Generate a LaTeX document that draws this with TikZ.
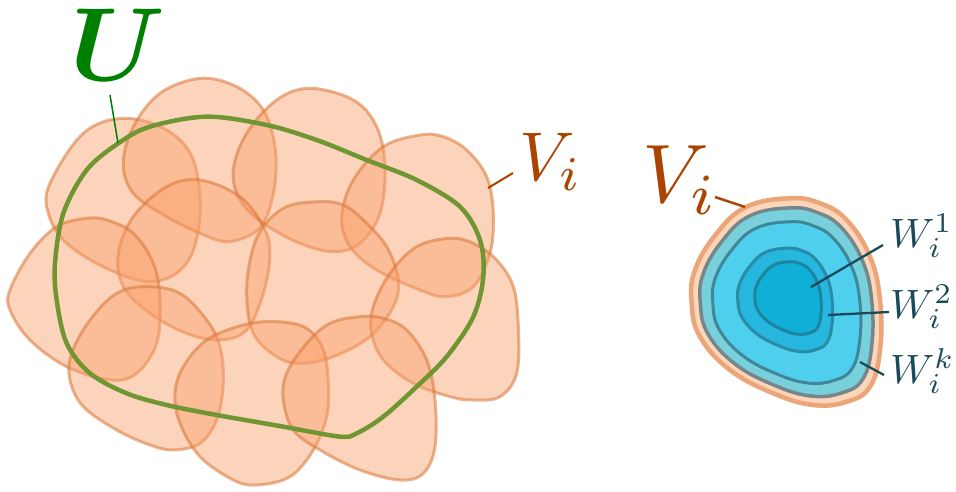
\documentclass[tikz,border=0pt]{standalone}
\usepackage{graphicx}
\definecolor{blobfill}{RGB}{249,160,106}
\definecolor{blobline}{RGB}{217,118,55}
\definecolor{ugreen}{RGB}{0,128,0}
\definecolor{ucurve}{RGB}{112,150,52}
\definecolor{vbrown}{RGB}{170,68,0}
\definecolor{wtext}{RGB}{26,74,90}
\definecolor{outfill}{RGB}{253,213,184}
\definecolor{outline}{RGB}{235,165,120}
\definecolor{ringk}{RGB}{118,135,139}
\definecolor{fillk}{RGB}{120,208,220}
\definecolor{ringtwo}{RGB}{64,133,152}
\definecolor{filltwo}{RGB}{79,207,238}
\definecolor{ringone}{RGB}{42,139,166}
\definecolor{fillone}{RGB}{37,183,221}
\definecolor{ringzero}{RGB}{30,133,160}
\definecolor{fillzero}{RGB}{16,175,215}
\tikzset{
  blob/.style={fill=blobfill, fill opacity=0.45, draw=blobline, draw opacity=0.55, line width=3pt, line join=round},
  ucurvestyle/.style={draw=ucurve, line width=4.5pt, line join=round},
  lbl/.style={anchor=base west, inner sep=0pt, outer sep=0pt},
  wlead/.style={draw=wtext, line width=2.3pt},
}
\newcommand\rightblob[1]{\path[#1] plot[smooth cycle, tension=0.7] coordinates {(790,198.3) (746.7,206.7) (716.7,233.3) (695,270) (691.7,303.3) (700,336.7) (730,370) (773.3,393.3) (813.3,405) (846.7,401.7) (870,386.7) (880,350) (880,300) (870,256.7) (846.7,220) (820,203.3)};}
\begin{document}
\begin{tikzpicture}[x=1pt,y=-1pt]
\useasboundingbox (0,0) rectangle (956,492);
% ---------------- left: cover of U ----------------
\begin{scope}[x=1/3 pt, y=-1/3 pt]
\draw[blob] plot[smooth cycle, tension=0.6] coordinates {(370,355) (250,400) (150,550) (145,640) (200,730) (330,810) (460,845) (560,790) (600,650) (580,480) (500,390)};
\draw[blob] plot[smooth cycle, tension=0.6] coordinates {(600,235) (480,280) (400,380) (370,490) (400,580) (500,650) (600,700) (680,725) (760,700) (800,650) (825,550) (825,440) (790,330) (710,260)};
\draw[blob] plot[smooth cycle, tension=0.6] coordinates {(930,265) (830,300) (740,400) (700,510) (720,600) (790,670) (900,730) (1000,755) (1080,730) (1140,640) (1155,500) (1130,380) (1060,300)};
\draw[blob] plot[smooth cycle, tension=0.6] coordinates {(1260,405) (1150,440) (1060,540) (1025,650) (1050,740) (1130,810) (1260,870) (1340,890) (1420,860) (1470,760) (1480,640) (1460,530) (1400,450) (1330,410)};
\draw[blob] plot[smooth cycle, tension=0.6] coordinates {(600,540) (500,560) (400,650) (355,760) (370,860) (450,940) (560,1000) (660,1020) (740,990) (790,880) (810,760) (790,680) (720,590)};
\draw[blob] plot[smooth cycle, tension=0.6] coordinates {(960,605) (860,620) (790,680) (755,760) (740,880) (760,1000) (830,1070) (900,1090) (1000,1070) (1110,1010) (1180,920) (1195,840) (1160,740) (1090,660) (1030,615)};
\draw[blob] plot[smooth cycle, tension=0.6] coordinates {(260,655) (170,680) (90,760) (30,870) (30,930) (90,1020) (200,1100) (330,1140) (410,1120) (470,1030) (480,900) (460,790) (400,700) (320,660)};
\draw[blob] plot[smooth cycle, tension=0.6] coordinates {(1350,715) (1250,740) (1170,820) (1120,920) (1115,1000) (1150,1080) (1240,1150) (1350,1190) (1420,1200) (1500,1190) (1550,1120) (1555,980) (1540,860) (1490,780) (1420,730)};
\draw[blob] plot[smooth cycle, tension=0.6] coordinates {(440,860) (350,880) (270,960) (215,1060) (210,1140) (250,1220) (350,1290) (450,1335) (520,1350) (600,1330) (650,1260) (670,1150) (660,1040) (620,960) (540,880)};
\draw[blob] plot[smooth cycle, tension=0.6] coordinates {(830,965) (730,975) (620,1020) (550,1100) (525,1180) (540,1270) (600,1370) (700,1440) (770,1455) (870,1430) (940,1350) (980,1250) (985,1150) (970,1050) (920,985)};
\draw[blob] plot[smooth cycle, tension=0.6] coordinates {(1080,950) (990,970) (920,1030) (860,1120) (850,1200) (880,1290) (960,1350) (1080,1410) (1200,1440) (1270,1420) (1305,1340) (1305,1200) (1280,1080) (1220,990) (1150,955)};
% the set U
\draw[ucurvestyle] plot[smooth cycle, tension=0.55] coordinates {(355,430) (450,380) (620,350) (800,375) (950,420) (1100,480) (1250,540) (1380,620) (1440,720) (1450,830) (1420,950) (1340,1070) (1250,1160) (1150,1250) (1070,1300) (1020,1310) (850,1280) (650,1245) (500,1215) (380,1180) (270,1120) (200,1030) (170,900) (165,790) (190,640) (260,510)};
\end{scope}
% labels left
\node[lbl, text=ugreen] (U) at (70,81) {\scalebox{10.4}{\boldmath$U$}};
\coordinate (Ua) at (110,95);
\coordinate (Ub) at (118,143);
\draw[ugreen, line width=1.5pt] (Ua) -- (Ub);
\node[lbl, text=vbrown] (Vl) at (519,180) {\scalebox{6.9}{$V_i$}};
\coordinate (Vla) at (488,188);
\coordinate (Vlb) at (513,173);
\draw[vbrown, line width=2pt] (Vla) -- (Vlb);
% ---------------- right: nested sets ----------------
\rightblob{fill=outfill, draw=outline, line width=4.5pt}
\begin{scope}[scale around={0.91:(788,305)}]
\rightblob{fill=fillk, draw=ringk, line width=3.5pt}
\end{scope}
\begin{scope}[scale around={0.78:(788,305)}]
\rightblob{fill=filltwo, draw=ringtwo, line width=3pt}
\end{scope}
\begin{scope}[scale around={0.5:(784,298)}]
\rightblob{fill=fillone, draw=ringone, line width=3pt}
\end{scope}
\begin{scope}[scale around={0.35:(789,296)}]
\rightblob{fill=fillzero, draw=ringzero, line width=3pt}
\end{scope}
\node[lbl, text=vbrown] (Vr) at (642,202) {\scalebox{8.3}{$V_i$}};
\coordinate (Vra) at (715,197);
\coordinate (Vrb) at (745,207);
\draw[vbrown, line width=2.5pt] (Vra) -- (Vrb);
\node[lbl, text=wtext] (W1) at (890,247) {\scalebox{4.1}{$W_i^1$}};
\node[lbl, text=wtext] (W2) at (890,318) {\scalebox{4.1}{$W_i^2$}};
\node[lbl, text=wtext] (Wk) at (890,383) {\scalebox{4.1}{$W_i^k$}};
\coordinate (W1a) at (811,287);
\coordinate (W1b) at (883,245);
\coordinate (W2a) at (828,315);
\coordinate (W2b) at (889,312);
\coordinate (Wka) at (860,362);
\coordinate (Wkb) at (884,375);
\draw[wlead] (W1a) -- (W1b);
\draw[wlead] (W2a) -- (W2b);
\draw[wlead] (Wka) -- (Wkb);
\end{tikzpicture}
\end{document}
